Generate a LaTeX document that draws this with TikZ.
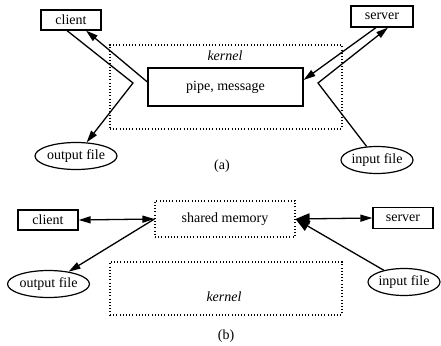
\documentclass[tikz,border=0pt]{standalone}
\usepackage{fontspec}
\setmainfont{Liberation Serif}
\usetikzlibrary{arrows.meta,shapes.geometric}
\begin{document}
\begin{tikzpicture}[x=1pt,y=-1pt,
  font=\fontsize{14}{16}\selectfont,
  box/.style={draw,line width=1.2pt,inner sep=0pt,minimum height=20pt},
  dotbox/.style={draw,line width=1.1pt,dash pattern=on 1pt off 2.2pt,inner sep=0pt},
  oval/.style={draw,ellipse,line width=1.2pt,inner sep=0pt,minimum height=27pt},
  conn/.style={line width=1.3pt},
  tip/.style={-{Triangle[length=12pt,width=7pt]}},
  bigtip/.style={-{Triangle[length=14pt,width=11pt]}},
  lbl/.style={inner sep=0pt},
  klbl/.style={inner sep=0pt,font=\fontsize{14}{16}\selectfont\itshape}
]
\useasboundingbox (0,0) rectangle (441,345);

% ---------- (a) ----------
\node[dotbox,minimum width=232pt,minimum height=84pt] (kernA) at (226,87) {};
\node[klbl] (klabA) at (225,56) {kernel};
\node[box,minimum width=155pt,minimum height=38pt] (pipe) at (225.5,87) {pipe, message};
\node[box,minimum width=60pt] (clientA) at (71,20) {client};
\node[box,minimum width=62pt,minimum height=21pt] (serverA) at (382,16.5) {server};
\node[oval,minimum width=72pt] (outA) at (76,156) {output file};
\node[oval,minimum width=68pt] (inA) at (377,160) {input file};
\node[lbl] (capA) at (222,166) {(a)};
\coordinate (vl) at (133,83);
\coordinate (vr) at (318,83);

\draw[conn,tip] ([xshift=-4pt]clientA.south) -- (vl) -- (outA);
\draw[conn,tip] ([yshift=5pt]pipe.west) -- ([xshift=15pt]clientA.south);
\draw[conn,tip] ([xshift=-6pt]serverA.south) -- ([yshift=7pt]pipe.east);
\draw[conn,tip] (inA) -- (vr) -- ([xshift=6pt]serverA.south);

% ---------- (b) ----------
\node[dotbox,minimum width=140pt,minimum height=36pt] (shm) at (225,219) {shared memory};
\node[dotbox,minimum width=232pt,minimum height=53pt] (kernB) at (226,288.5) {};
\node[klbl] (klabB) at (224,297) {kernel};
\node[box,minimum width=60pt] (clientB) at (48,220) {client};
\node[box,minimum width=60pt,minimum height=21pt] (serverB) at (403,218) {server};
\node[oval,minimum width=73pt] (outB) at (48.5,284) {output file};
\node[oval,minimum width=66pt] (inB) at (404,282) {input file};
\node[lbl] (capB) at (226,336) {(b)};

\draw[conn,{Triangle[length=12pt,width=7pt]}-{Triangle[length=12pt,width=7pt]}] (clientB.east) -- (shm.west);
\draw[conn,tip] (shm.west) -- (outB);
\draw[conn,{Triangle[length=14pt,width=11pt]}-{Triangle[length=12pt,width=7pt]}] (shm.east) -- (serverB.west);
\draw[conn,bigtip] (inB) -- (shm.east);
\end{tikzpicture}
\end{document}
